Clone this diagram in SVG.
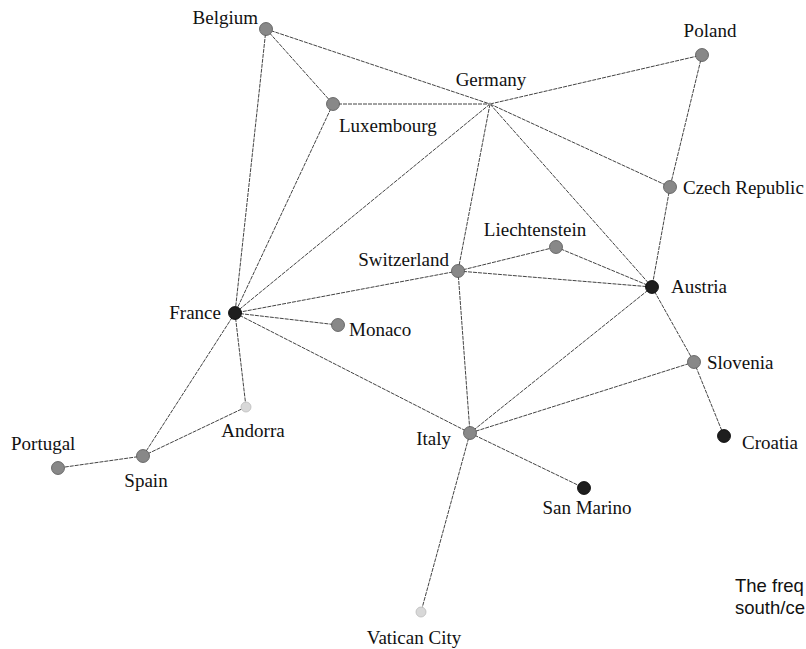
<svg xmlns="http://www.w3.org/2000/svg" width="806" height="649" viewBox="0 0 806 649">
<style>
.e{stroke:#2e2e2e;stroke-width:0.9;stroke-dasharray:4 1;fill:none}
.n{fill:#888;stroke:#555;stroke-width:0.8}
.d{fill:#1e1e1e;stroke:#000;stroke-width:0.8}
.l{fill:#d8d8d8;stroke:#bbb;stroke-width:0.8}
text{font-family:"Liberation Serif","Times New Roman",serif;font-size:19px;fill:#111}
.r{text-anchor:end}
.c{text-anchor:middle}
.note{font-family:"Liberation Sans",Arial,sans-serif;font-size:18.5px;fill:#111}
</style>
<rect width="806" height="649" fill="#fff"/>
<g id="connectors">
<line class="e" x1="266" y1="29" x2="490" y2="104"/>
<line class="e" x1="266" y1="29" x2="333" y2="104"/>
<line class="e" x1="266" y1="29" x2="235" y2="313"/>
<line class="e" x1="333" y1="104" x2="490" y2="104"/>
<line class="e" x1="333" y1="104" x2="235" y2="313"/>
<line class="e" x1="490" y1="104" x2="702" y2="55"/>
<line class="e" x1="490" y1="104" x2="670" y2="187"/>
<line class="e" x1="490" y1="104" x2="235" y2="313"/>
<line class="e" x1="490" y1="104" x2="458" y2="271"/>
<line class="e" x1="490" y1="104" x2="652" y2="287"/>
<line class="e" x1="702" y1="55" x2="670" y2="187"/>
<line class="e" x1="670" y1="187" x2="652" y2="287"/>
<line class="e" x1="458" y1="271" x2="556" y2="247"/>
<line class="e" x1="458" y1="271" x2="652" y2="287"/>
<line class="e" x1="458" y1="271" x2="235" y2="313"/>
<line class="e" x1="458" y1="271" x2="470" y2="433"/>
<line class="e" x1="556" y1="247" x2="652" y2="287"/>
<line class="e" x1="652" y1="287" x2="470" y2="433"/>
<line class="e" x1="652" y1="287" x2="694" y2="362"/>
<line class="e" x1="694" y1="362" x2="470" y2="433"/>
<line class="e" x1="694" y1="362" x2="724" y2="436"/>
<line class="e" x1="235" y1="313" x2="338" y2="325"/>
<line class="e" x1="235" y1="313" x2="470" y2="433"/>
<line class="e" x1="235" y1="313" x2="143" y2="456"/>
<line class="e" x1="235" y1="313" x2="246" y2="407"/>
<line class="e" x1="246" y1="407" x2="143" y2="456"/>
<line class="e" x1="143" y1="456" x2="58" y2="468"/>
<line class="e" x1="470" y1="433" x2="584" y2="488"/>
<line class="e" x1="470" y1="433" x2="421" y2="612"/>
</g>
<g id="belgium"><circle class="n" cx="266" cy="29" r="6.5"/><text class="r" x="258" y="24">Belgium</text></g>
<g id="luxembourg"><circle class="n" cx="333" cy="104" r="6.5"/><text x="339" y="132">Luxembourg</text></g>
<g id="germany"><circle fill="#999" cx="490" cy="104" r="1.5"/><text class="c" x="491" y="86">Germany</text></g>
<g id="poland"><circle class="n" cx="702" cy="55" r="6.5"/><text class="c" x="710" y="37">Poland</text></g>
<g id="czech"><circle class="n" cx="670" cy="187" r="6.5"/><text x="683" y="194">Czech Republic</text></g>
<g id="liechtenstein"><circle class="n" cx="556" cy="247" r="6.5"/><text class="c" x="535" y="236">Liechtenstein</text></g>
<g id="switzerland"><circle class="n" cx="458" cy="271" r="6.5"/><text class="r" x="449" y="266">Switzerland</text></g>
<g id="austria"><circle class="d" cx="652" cy="287" r="6.5"/><text x="671" y="293">Austria</text></g>
<g id="france"><circle class="d" cx="235" cy="313" r="6.5"/><text class="r" x="221" y="319">France</text></g>
<g id="monaco"><circle class="n" cx="338" cy="325" r="6.5"/><text x="349" y="336">Monaco</text></g>
<g id="slovenia"><circle class="n" cx="694" cy="362" r="6.5"/><text x="707" y="369">Slovenia</text></g>
<g id="croatia"><circle class="d" cx="724" cy="436" r="6.5"/><text x="742" y="449">Croatia</text></g>
<g id="andorra"><circle class="l" cx="246" cy="407" r="5"/><text class="c" x="253" y="437">Andorra</text></g>
<g id="spain"><circle class="n" cx="143" cy="456" r="6.5"/><text class="c" x="146" y="487">Spain</text></g>
<g id="portugal"><circle class="n" cx="58" cy="468" r="6.5"/><text x="11" y="450">Portugal</text></g>
<g id="italy"><circle class="n" cx="470" cy="433" r="6.5"/><text class="r" x="451" y="445">Italy</text></g>
<g id="sanmarino"><circle class="d" cx="584" cy="488" r="6.5"/><text class="c" x="587" y="514">San Marino</text></g>
<g id="vatican"><circle class="l" cx="421" cy="612" r="5"/><text class="c" x="414" y="644">Vatican City</text></g>
<g id="note"><text class="note" x="735" y="592">The freq</text><text class="note" x="735" y="614">south/ce</text></g>
</svg>
